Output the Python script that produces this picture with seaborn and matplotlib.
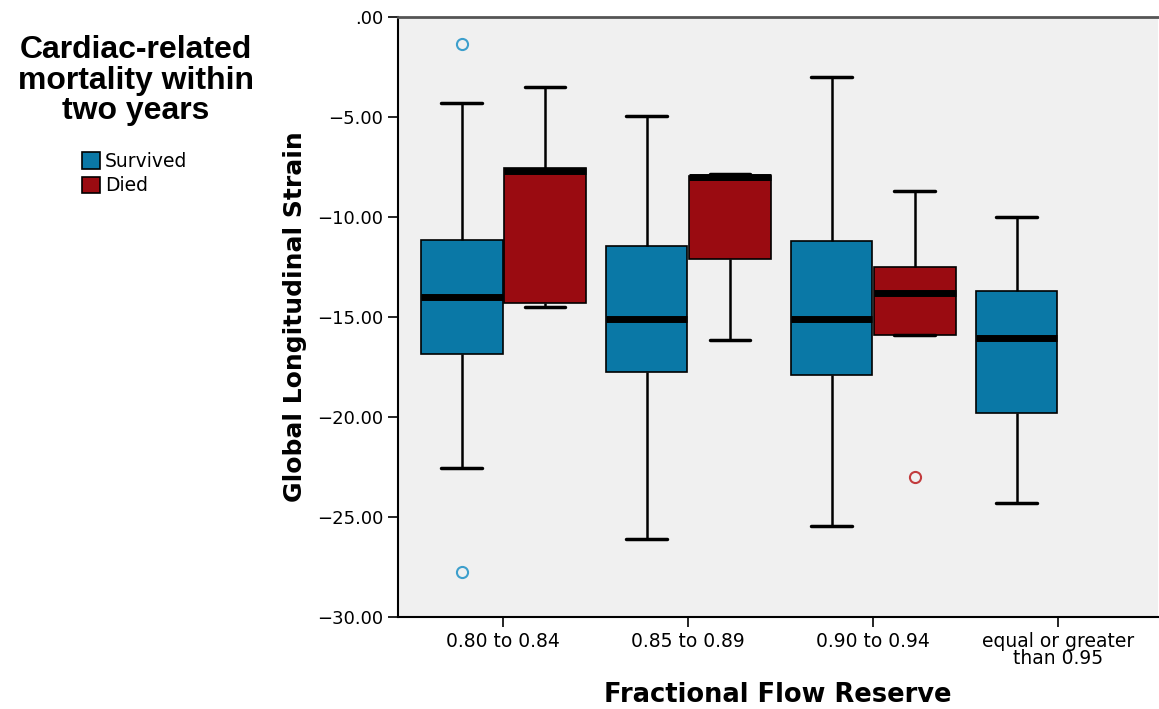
import pandas as pd
import seaborn as sns
import matplotlib.pyplot as plt

# FFR groups and outcome levels
ffr_groups = ["0.80 to 0.84", "0.85 to 0.89", "0.90 to 0.94", "equal or greater\nthan 0.95"]
outcomes = ["Survived", "Died"]

# Global longitudinal strain per box.
# Values sit on whisker ends, quartiles, median and outliers so the
# quartiles seaborn computes land on the drawn box edges.
survived_080 = [-27.73, -22.54, -16.85, -16.85, -14.0, -11.16, -11.16, -4.32, -1.37]
died_080 = [-14.5, -14.3, -7.74, -7.56, -3.52]
survived_085 = [-26.1, -17.75, -15.1, -11.46, -4.97]
died_085 = [-16.15, -12.1, -8.0, -7.95, -7.85]
survived_090 = [-25.44, -17.9, -15.1, -11.2, -3.02]
died_090 = [-22.99, -15.9, -15.9, -15.9, -13.8, -12.5, -12.5, -8.7, -8.7]
survived_095 = [-24.3, -19.8, -16.05, -13.7, -10.0]

y_ticks = [0, -5, -10, -15, -20, -25, -30]
y_tick_labels = [".00", "\u22125.00", "\u221210.00", "\u221215.00", "\u221220.00", "\u221225.00", "\u221230.00"]

box_colors = ["#0a78a6", "#9a0b11"]
flier_colors = ["#3d9fcc", "#c23b3d"]

boxes = [
    (ffr_groups[0], "Survived", survived_080),
    (ffr_groups[0], "Died", died_080),
    (ffr_groups[1], "Survived", survived_085),
    (ffr_groups[1], "Died", died_085),
    (ffr_groups[2], "Survived", survived_090),
    (ffr_groups[2], "Died", died_090),
    (ffr_groups[3], "Survived", survived_095),
]
rows = [(g, o, v) for g, o, vals in boxes for v in vals]
df = pd.DataFrame(rows, columns=["ffr", "mortality", "gls"])

sns.set_style("white")
plt.rcParams["font.family"] = ["DejaVu Sans"]
for key in ["text.color", "axes.labelcolor", "xtick.color", "ytick.color"]:
    plt.rcParams[key] = "black"

fig = plt.figure(figsize=(11.59, 7.09), dpi=100)
ax = fig.add_axes([0.3434, 0.1298, 0.6557, 0.8469])
ax.set_facecolor("#f0f0f0")

sns.boxplot(
    data=df, x="ffr", y="gls", hue="mortality",
    order=ffr_groups, hue_order=outcomes, palette=box_colors,
    width=0.9, gap=0.02, linecolor="black", saturation=1,
    boxprops={"linewidth": 1.2},
    whiskerprops={"linewidth": 1.8},
    capprops={"linewidth": 2.5},
    medianprops={"linewidth": 5, "color": "black", "solid_capstyle": "butt"},
    flierprops={"marker": "o", "markersize": 8, "markerfacecolor": "none",
                "markeredgewidth": 1.5},
    ax=ax,
)

# outlier circles take a lighter tint of their group colour
for cont, col in zip(ax.containers, flier_colors):
    for line in cont.fliers:
        line.set_markeredgecolor(col)

ax.set_ylim(-30, 0)
ax.set_xlim(-0.57, 3.54)
ax.set_yticks(y_ticks)
ax.set_yticklabels(y_tick_labels, fontsize=13)
ax.set_xticks(range(len(ffr_groups)))
ax.set_xticklabels(ffr_groups, fontsize=13.5, linespacing=0.9)
ax.tick_params(axis="both", direction="out", length=7, width=1.2, color="black",
               left=True, bottom=True)

for side in ["left", "bottom"]:
    ax.spines[side].set_color("black")
    ax.spines[side].set_linewidth(1.5)
ax.spines["top"].set_color("#555555")
ax.spines["top"].set_linewidth(2)
ax.spines["right"].set_visible(False)

ax.set_ylabel("Global Longitudinal Strain", fontsize=18, fontweight="bold", labelpad=7)
ax.set_xlabel("Fractional Flow Reserve", fontsize=18.5, fontweight="bold", labelpad=10)

# legend title as separate figure text, entries below it
fig.text(0.117, 0.95, "Cardiac-related\nmortality within\ntwo years",
         ha="center", va="top", multialignment="center", linespacing=1.02,
         family="Liberation Sans", weight="bold", fontsize=23)
sns.move_legend(
    ax, "upper left", bbox_to_anchor=(0.0705, 0.786), bbox_transform=fig.transFigure,
    title=None, fontsize=13.5, frameon=False, handlelength=1.0, handleheight=1.0,
    handletextpad=0.25, labelspacing=0.3, borderpad=0, borderaxespad=0,
)

plt.savefig("out.png", dpi=100)
